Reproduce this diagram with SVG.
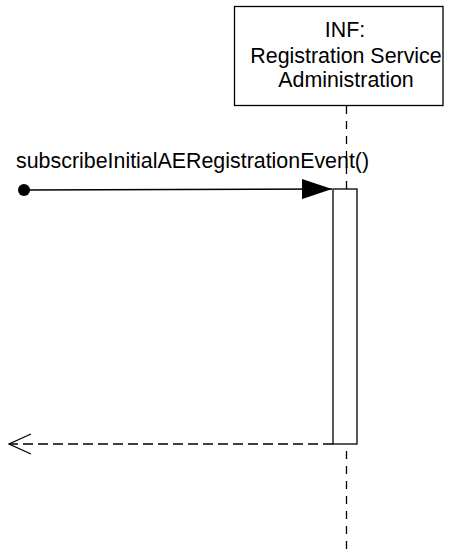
<svg xmlns="http://www.w3.org/2000/svg" width="451" height="553" viewBox="0 0 451 553">
<style>
text{font-family:"Liberation Sans",Arial,sans-serif;font-size:21.4px;fill:#000}
.box{fill:#fff;stroke:#000;stroke-width:1.3}
.life{stroke:#000;stroke-width:1.3;stroke-dasharray:8,7;fill:none}
.msg{stroke:#000;stroke-width:1.3;fill:none}
.ret{stroke:#000;stroke-width:1.3;fill:none;stroke-dasharray:10,5}
</style>
<defs>
<marker id="filled" markerWidth="30" markerHeight="20" refX="30" refY="10" markerUnits="userSpaceOnUse" orient="auto">
<path d="M0,0 L30,10 L0,20 Z" fill="#000"/>
</marker>
<marker id="open" markerWidth="24" markerHeight="24" refX="23" refY="11" markerUnits="userSpaceOnUse" orient="auto">
<path d="M1,1 L23,11 L1,21" fill="none" stroke="#000" stroke-width="1.3"/>
</marker>
</defs>
<g id="lifeline-inf">
<line class="life" x1="346.5" y1="106" x2="346.5" y2="553"/>
<rect class="box" x="234.5" y="6.5" width="208.5" height="99"/>
<text x="345" y="37" text-anchor="middle">INF:</text>
<text x="346" y="63" text-anchor="middle">Registration Service</text>
<text x="346" y="87" text-anchor="middle">Administration</text>
</g>
<g id="activation">
<rect class="box" x="333" y="189" width="24" height="255"/>
</g>
<g id="connectors">
<circle cx="24" cy="190" r="6" fill="#000"/>
<line class="msg" x1="24" y1="190" x2="332" y2="189" marker-end="url(#filled)"/>
<text x="16" y="168">subscribeInitialAERegistrationEvent()</text>
<line class="ret" x1="333" y1="444" x2="9" y2="444" marker-end="url(#open)"/>
</g>
</svg>
